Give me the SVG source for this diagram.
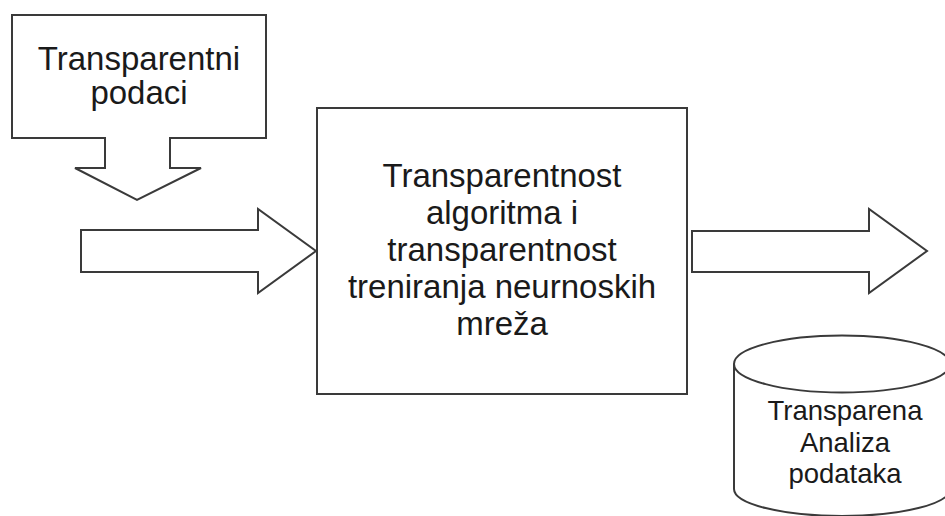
<svg xmlns="http://www.w3.org/2000/svg" width="945" height="516" viewBox="0 0 945 516">
<style>
.shape{fill:#ffffff;stroke:#3a3a3a;stroke-width:2;stroke-linejoin:miter}
.t{font-family:"Liberation Sans",Arial,sans-serif;fill:#1a1a1a;text-anchor:middle}
.big{font-size:33px}
.small{font-size:27.5px}
</style>
<rect width="945" height="516" fill="#ffffff"/>
<g id="node-podaci">
<path class="shape" d="M12,15 H266 V138 H170 V168 H201 L137,200 L75,168 H105 V138 H12 Z"/>
<text class="t big" x="139" y="70">Transparentni</text>
<text class="t big" x="139" y="104">podaci</text>
</g>
<g id="connectors">
<path class="shape" d="M81,230 H258 V209 L316,251 L258,293 V272 H81 Z"/>
<path class="shape" d="M692,231 H869 V209 L927,251 L869,293 V272 H692 Z"/>
</g>
<g id="node-algoritam">
<rect class="shape" x="317" y="108" width="370" height="286"/>
<text class="t big" x="502" y="187">Transparentnost</text>
<text class="t big" x="502" y="224">algoritma i</text>
<text class="t big" x="502" y="261">transparentnost</text>
<text class="t big" x="502" y="298">treniranja neurnoskih</text>
<text class="t big" x="502" y="335">mreža</text>
</g>
<g id="node-analiza">
<path class="shape" d="M734,364 V489 A108,27 0 0 0 950,489 V364"/>
<ellipse class="shape" cx="842" cy="364" rx="108" ry="28.5"/>
<text class="t small" x="845" y="420">Transparena</text>
<text class="t small" x="845" y="452">Analiza</text>
<text class="t small" x="845" y="483">podataka</text>
</g>
</svg>
